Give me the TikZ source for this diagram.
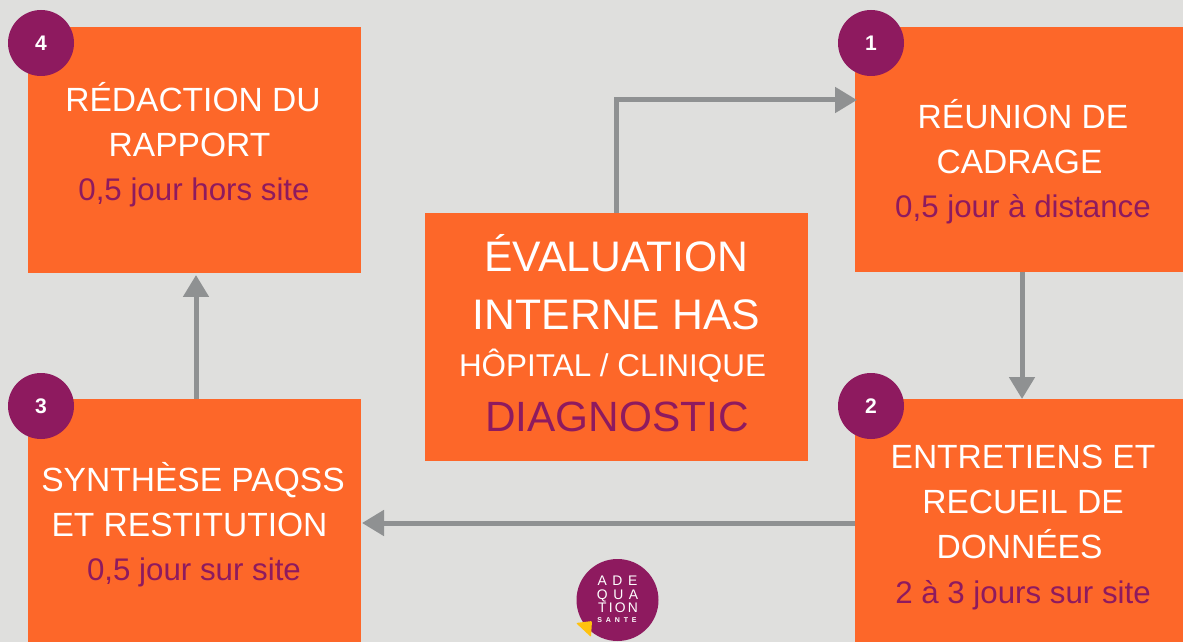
\documentclass[tikz,border=0pt]{standalone}
\usepackage{fontspec}
\setmainfont{Liberation Sans}
\usetikzlibrary{arrows.meta}
\definecolor{fond}{HTML}{DFDFDD}
\definecolor{orange}{HTML}{FD6729}
\definecolor{violet}{HTML}{8E1A5F}
\definecolor{gris}{HTML}{8F9192}
\definecolor{jaune}{HTML}{FFC20E}
\tikzset{
etape/.style={fill=orange, inner sep=0pt, minimum width=333*0.02cm, minimum height=245*0.02cm},
numero/.style={fill=violet, circle, inner sep=0pt, minimum size=66*0.02cm, text=white, font=\fontsize{12}{12}\selectfont\bfseries},
titre/.style={text=white, align=center, inner sep=0pt, font=\fontsize{19.1}{25.6}\selectfont},
duree/.style={text=violet, inner sep=0pt, font=\fontsize{17.8}{18}\selectfont},
fleche/.style={draw=gris, line width=0.1cm, -{Triangle[length=0.44cm, width=0.5cm]}},
logo/.style={text=white, inner sep=0pt},
}
\newcommand{\blanc}{\hspace*{0.14cm}}

\begin{document}
\begin{tikzpicture}[x=0.02cm, y=-0.02cm]
    \useasboundingbox[fill=fond] (0,0) rectangle (1183,642);

    %boxes
    \node[etape] (e4) at (194.5,150) { };
    \node[etape, minimum width=328*0.02cm] (e1) at (1019,149.5) { };
    \node[etape, minimum height=243*0.02cm] (e3) at (194.5,520.5) { };
    \node[etape, minimum width=328*0.02cm, minimum height=243*0.02cm] (e2) at (1019,520.5) { };
    \node[etape, minimum width=383*0.02cm, minimum height=248*0.02cm] (centre) at (616.5,337) { };

    %where the arrows meet the boxes
    \coordinate (in1) at (857,100);
    \coordinate (out1) at (1022,272);
    \coordinate (in2) at (1022,399);
    \coordinate (out2) at (855,523);
    \coordinate (in3) at (362,523);
    \coordinate (out3) at (196,399);
    \coordinate (in4) at (196,275);

    %arrows
    \draw[fleche] (centre.north) |- (in1);
    \draw[fleche] (out1)--(in2);
    \draw[fleche] (out2)--(in3);
    \draw[fleche] (out3)--(in4);

    %numbers
    \node[numero] (n4) at (41,43) {4};
    \node[numero] (n1) at (871,43) {1};
    \node[numero] (n3) at (41,406) {3};
    \node[numero] (n2) at (871,406) {2};

    %texts of the boxes
    \node[titre] (t4) at (193,120) {RÉDACTION DU\\RAPPORT\blanc};
    \node[duree] (d4) at (194,192) {0,5 jour hors site};
    \node[titre] (t1) at (1023,137) {RÉUNION DE\\CADRAGE\blanc};
    \node[duree] (d1) at (1023,209) {0,5 jour à distance};
    \node[titre] (t3) at (193,500) {SYNTHÈSE PAQSS\\ET RESTITUTION\blanc};
    \node[duree] (d3) at (194,572) {0,5 jour sur site};
    \node[titre] (t2) at (1023,502) {ENTRETIENS ET\\RECUEIL DE\\DONNÉES\blanc};
    \node[duree] (d2) at (1023,595) {2 à 3 jours sur site};

    %centre box
    \node[titre, font=\fontsize{24.3}{33}\selectfont] (t0) at (616.5,282) {ÉVALUATION\\INTERNE HAS};
    \node[titre, font=\fontsize{17.9}{20}\selectfont] (s0) at (612.5,366) {HÔPITAL / CLINIQUE};
    \node[duree, font=\fontsize{24.1}{26}\selectfont] (d0) at (617,417) {DIAGNOSTIC};

    %logo
    \node[fill=violet, circle, inner sep=0pt, minimum size=82*0.02cm] (rond) at (617.5,600) { };
    \node[logo, font=\fontsize{7.9}{8}\selectfont\addfontfeature{LetterSpace=40}] (l1) at (617.5,580.5) {ADE};
    \node[logo, font=\fontsize{7.9}{8}\selectfont\addfontfeature{LetterSpace=40}] (l2) at (617.5,595.5) {QUA};
    \node[logo, font=\fontsize{7.9}{8}\selectfont\addfontfeature{LetterSpace=16}] (l3) at (618,608) {TION};
    \node[logo, font=\fontsize{4}{4}\selectfont\bfseries\addfontfeature{LetterSpace=55}] (l4) at (617,620.5) {SANTE};
    \fill[jaune, rounded corners=0.02cm] (576,623)--(592,621)--(591,637)--cycle;
\end{tikzpicture}
\end{document}
